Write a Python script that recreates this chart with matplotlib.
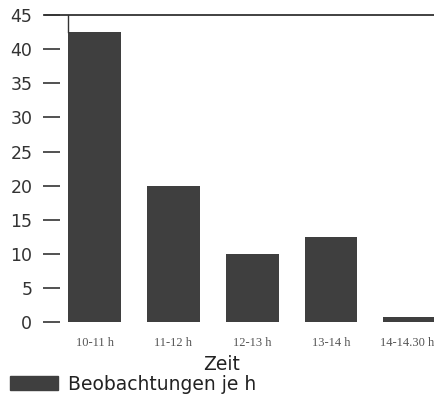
import matplotlib
matplotlib.use("Agg")
import matplotlib.pyplot as plt
from matplotlib.patches import Patch
from matplotlib.transforms import ScaledTranslation

categories = ["10-11 h", "11-12 h", "12-13 h", "13-14 h", "14-14.30 h"]
values = [42.5, 20, 10, 12.5, 0.7]
yticks = [0, 5, 10, 15, 20, 25, 30, 35, 40, 45]

bar_color = "#3f3f3f"

fig = plt.figure(figsize=(4.35, 3.98), dpi=100)
ax = fig.add_axes([0.138, 0.191, 0.862, 0.771])
x = list(range(len(categories)))
bars = ax.bar(x, values, width=0.67, color=bar_color, zorder=2)
ax.set_xlim(-0.44, 4.32)
ax.set_ylim(0, 45)
ax.set_yticks(yticks)
ax.set_yticklabels([str(t) for t in yticks], fontsize=12.5, color="#333333",
                   fontfamily="DejaVu Sans")
ax.tick_params(axis="y", direction="out", length=12, width=1.2, pad=8,
               color="#333333")
ax.set_xticks(x)
ax.set_xticklabels(categories, fontfamily="Liberation Serif", fontsize=9,
                   color="#555555")
ax.tick_params(axis="x", length=0, pad=11)
last = ax.get_xticklabels()[-1]
last.set_transform(last.get_transform() + ScaledTranslation(-3 / 100, 0, fig.dpi_scale_trans))
for s in ["left", "right", "bottom", "top"]:
    ax.spines[s].set_visible(False)

# top line at 45 extending over the tick
ax.plot([-0.04, 1.0], [1.0, 1.0], transform=ax.transAxes, color="#333333",
        lw=1.3, clip_on=False)
# thin line from first bar's left edge to top
b0 = bars[0]
ax.plot([b0.get_x(), b0.get_x()], [b0.get_height(), 45], color="#333333",
        lw=1.0, zorder=3)

fig.text(0.51, 1 - 364 / 398, "Zeit", fontsize=13.5, color="#222222",
         ha="center", va="center", fontfamily="DejaVu Sans")

fig.legend(handles=[Patch(color=bar_color)], labels=["Beobachtungen je h"],
           loc="center left", bbox_to_anchor=(10 / 435, 1 - 384 / 398),
           frameon=False, fontsize=13.5, handlelength=2.56, handleheight=0.7,
           handletextpad=0.53, borderpad=0, borderaxespad=0,
           labelcolor="#222222")

fig.savefig("out.png", dpi=100)
